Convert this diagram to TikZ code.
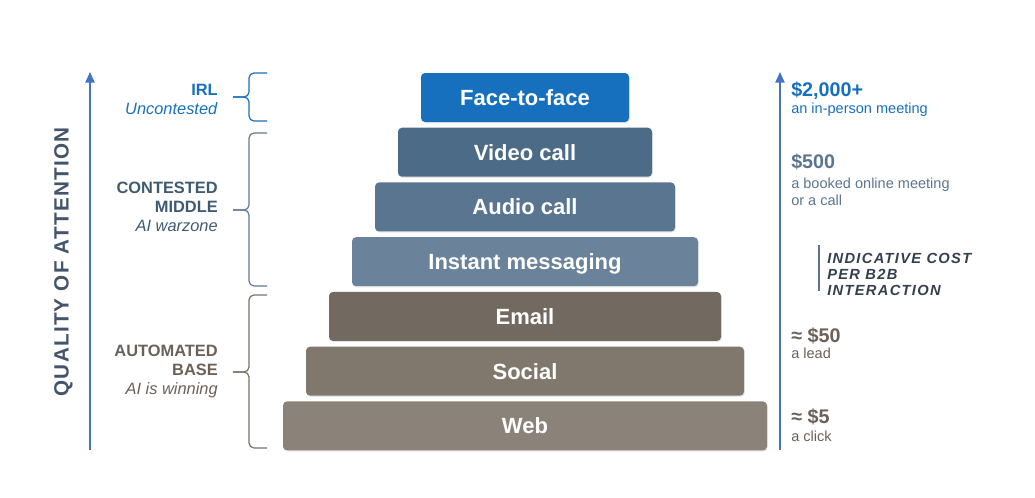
\documentclass[tikz,border=0pt]{standalone}
\usepackage{fontspec}
\setmainfont{Liberation Sans}
\usepackage{tikz}
\usetikzlibrary{positioning,arrows.meta,shadows}
\usepackage{xcolor}

\definecolor{ftfcol}{HTML}{1770BE}
\definecolor{videocol}{HTML}{4B6B87}
\definecolor{audiocol}{HTML}{5A7590}
\definecolor{imcol}{HTML}{6A839B}
\definecolor{emailcol}{HTML}{726960}
\definecolor{socialcol}{HTML}{80776D}
\definecolor{webcol}{HTML}{8B8279}
\definecolor{axiscol}{HTML}{4472C4}
\definecolor{qualcol}{HTML}{44546A}
\definecolor{midtext}{HTML}{3F5A73}
\definecolor{midbrace}{HTML}{5E7A95}
\definecolor{basetext}{HTML}{6B6158}
\definecolor{basebrace}{HTML}{7C7269}
\definecolor{costmid}{HTML}{5B7590}
\definecolor{notecol}{HTML}{333F50}

% brace: colour, top, tip, bottom (in px)
\newcommand{\groupbrace}[4]{%
  \draw[bracestyle, #1] (267,#2) -- (249,#2) -- (249,#3) -- (233,#3);
  \draw[bracestyle, #1] (233,#3) -- (249,#3) -- (249,#4) -- (267,#4);
}

\begin{document}
\begin{tikzpicture}[
    x=0.75pt, y=-0.75pt,
    tier/.style={rectangle, rounded corners=3pt, minimum height=36.75pt, inner sep=0pt, outer sep=0pt,
        text height=11.8pt, text depth=0pt,
        text=white, font=\fontsize{16.5}{19}\selectfont\bfseries,
        drop shadow={opacity=0.18, shadow xshift=0.6pt, shadow yshift=-0.9pt}},
    grouplabel/.style={anchor=east, align=right, inner sep=0pt,
        font=\fontsize{12.3}{14.25}\selectfont},
    amount/.style={anchor=base west, inner sep=0pt, font=\fontsize{14.8}{17}\selectfont\bfseries},
    costnote/.style={anchor=base west, inner sep=0pt, font=\fontsize{10.9}{12.75}\selectfont},
    bracestyle/.style={line width=0.9pt, rounded corners=3.75pt},
    axis/.style={line width=1.1pt, axiscol, -{Triangle[width=7pt,length=8pt]}}
]
\useasboundingbox (0,0) rectangle (1035,497);

% the pyramid
\node[tier, fill=ftfcol, minimum width=156pt] (ftf) at (525,97.5) {Face-to-face};
\node[tier, fill=videocol, minimum width=190.5pt, below=4.3pt of ftf] (video) {Video call};
\node[tier, fill=audiocol, minimum width=225pt, below=4.3pt of video] (audio) {Audio call};
\node[tier, fill=imcol, minimum width=259.5pt, below=4.3pt of audio] (im) {Instant messaging};
\node[tier, fill=emailcol, minimum width=294pt, below=4.3pt of im] (email) {Email};
\node[tier, fill=socialcol, minimum width=328.5pt, below=4.3pt of email] (social) {Social};
\node[tier, fill=webcol, minimum width=363pt, below=4.3pt of social] (web) {Web};

% axes
\coordinate (qbot) at (90,450);
\coordinate (qtop) at (90,72);
\coordinate (cbot) at (780,450);
\coordinate (ctop) at (780,72);
\draw[axis] (qbot) -- (qtop);
\draw[axis] (cbot) -- (ctop);

\node[rotate=90, text=qualcol, inner sep=0pt,
      font=\fontsize{15.5}{18}\selectfont\bfseries\addfontfeatures{LetterSpace=6}]
      (quality) at (63.5,262) {QUALITY OF ATTENTION};

% groups on the left
\node[grouplabel, text=ftfcol] (irl) at (218,99) {\textbf{IRL}\\\textit{Uncontested}};
\node[grouplabel, text=midtext] (contested) at (218,207) {\textbf{CONTESTED}\\\textbf{MIDDLE}\\\textit{AI warzone}};
\node[grouplabel, text=basetext] (automated) at (218,371) {\textbf{AUTOMATED}\\\textbf{BASE}\\\textit{AI is winning}};

\groupbrace{ftfcol}{73}{97}{121}
\groupbrace{midbrace}{133}{210}{286}
\groupbrace{basebrace}{295}{372}{448}

% costs on the right
\node[amount, text=ftfcol] (c2000) at (791,96.5) {\$2,000+};
\node[costnote, text=ftfcol] (c2000note) at (791,113) {an in-person meeting};
\node[amount, text=costmid] (c500) at (791,168) {\$500};
\node[costnote, text=costmid, align=left, anchor=north west] (c500note) at (791,178) {a booked online meeting\\or a call};
\node[amount, text=basetext] (c50) at (791,342) {≈ \$50};
\node[costnote, text=basetext] (c50note) at (791,358) {a lead};
\node[amount, text=basetext] (c5) at (791,423) {≈ \$5};
\node[costnote, text=basetext] (c5note) at (791,441) {a click};

\coordinate (ntop) at (819,245);
\coordinate (nbot) at (819,291);
\draw[line width=0.8pt, costmid] (ntop) -- (nbot);
\node[anchor=north west, align=left, inner sep=0pt, text=notecol,
      font=\fontsize{11}{12}\selectfont\bfseries\itshape\addfontfeatures{LetterSpace=9}]
      (note) at (827,252.5) {INDICATIVE COST\\PER B2B\\INTERACTION};
\end{tikzpicture}
\end{document}
